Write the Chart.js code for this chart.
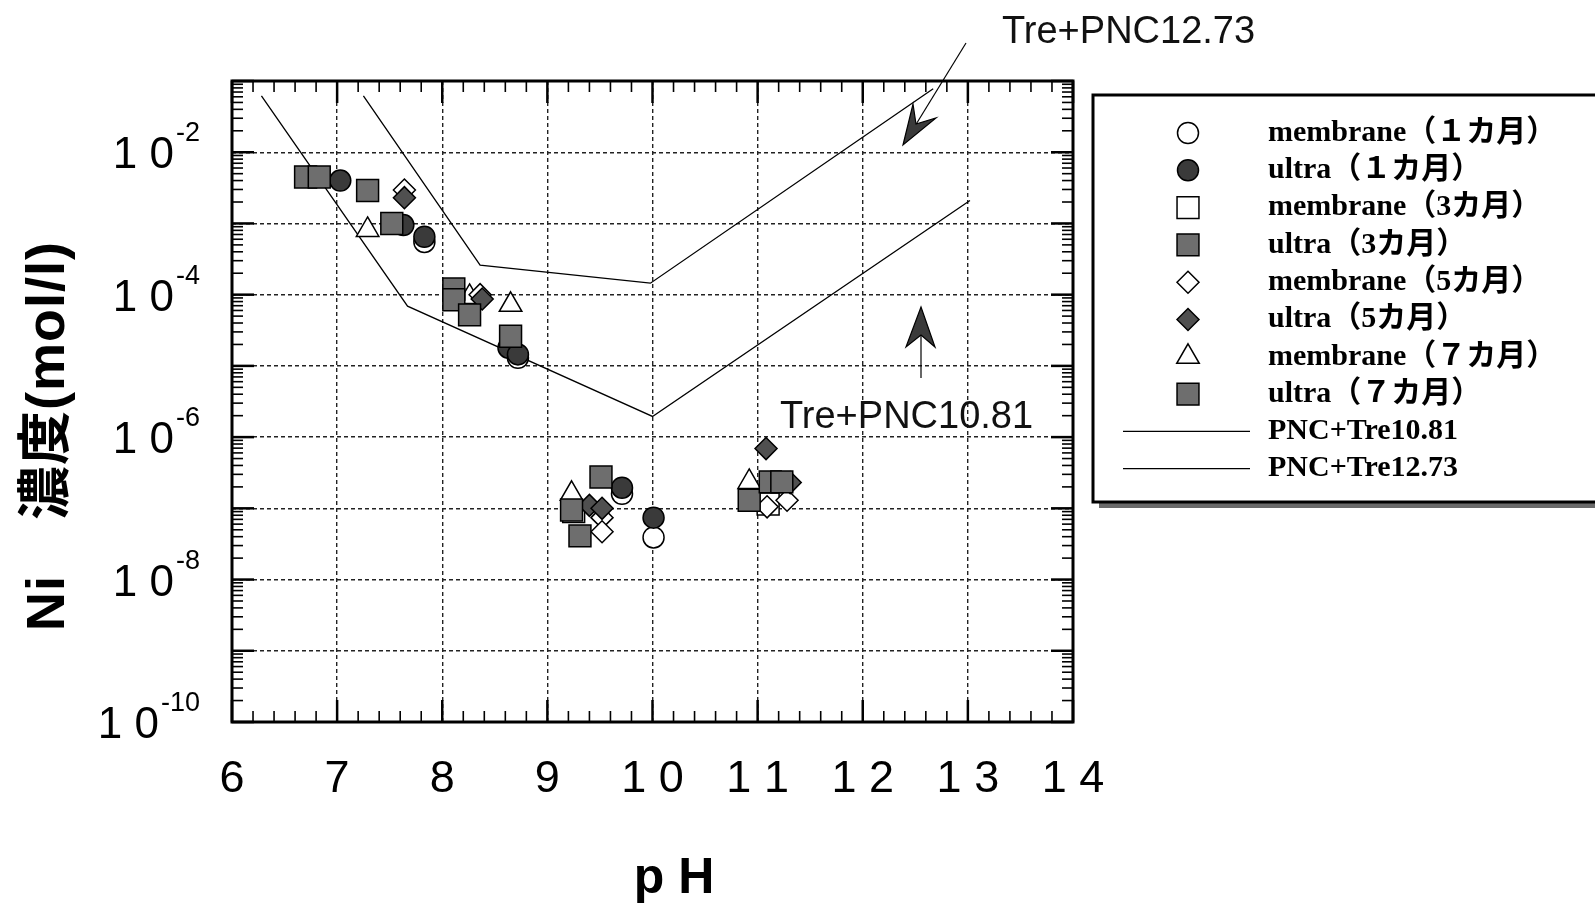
<!DOCTYPE html>
<html>
<head>
<meta charset="utf-8">
<script src="https://cdn.jsdelivr.net/npm/chart.js@4.4.1/dist/chart.umd.min.js"></script>
<style>
  html, body { margin: 0; padding: 0; background: #fff; }
  #wrap { width: 1595px; height: 904px; }
</style>
</head>
<body>
<div id="wrap"><canvas id="niChart" width="1595" height="904"></canvas></div>
<script>
// axis ticks
const phTicks = [6, 7, 8, 9, 10, 11, 12, 13, 14];
const concDecades = [1e-10, 1e-9, 1e-8, 1e-7, 1e-6, 1e-5, 1e-4, 1e-3, 1e-2, 1e-1];
const concLabelExp = [-10, -8, -6, -4, -2];

// membrane (1 month) - open circles
const m1_pH = [7.83, 8.72, 9.71, 10.01];
const m1_conc = [5.5e-4, 1.3e-5, 1.6e-7, 3.9e-8];
// ultra (1 month) - filled circles
const u1_pH = [7.03, 7.63, 7.83, 8.63, 8.72, 9.71, 10.01];
const u1_conc = [4.0e-3, 9.5e-4, 6.5e-4, 1.8e-5, 1.45e-5, 1.95e-7, 7.4e-8];
// membrane (3 months) - open squares (mostly hidden)
const m3_pH = [9.25, 11.10];
const m3_conc = [9.0e-8, 1.15e-7];
// ultra (3 months) - gray squares
const u3_pH = [7.29, 7.52, 8.11, 8.65, 9.51, 10.92];
const u3_conc = [2.9e-3, 1.0e-3, 1.2e-4, 2.6e-5, 2.75e-7, 1.3e-7];
// membrane (5 months) - open diamonds
const m5_pH = [7.64, 8.36, 9.52, 9.52, 11.09, 11.28];
const m5_conc = [2.95e-3, 1.0e-4, 7.4e-8, 4.7e-8, 1.05e-7, 1.3e-7];
// ultra (5 months) - filled diamonds
const u5_pH = [7.64, 8.38, 9.40, 9.52, 11.08, 11.31];
const u5_conc = [2.3e-3, 8.7e-5, 1.1e-7, 1.0e-7, 6.9e-7, 2.3e-7];
// membrane (7 months) - open triangles
const m7_pH = [7.29, 8.26, 8.65, 9.23, 10.92];
const m7_conc = [8.1e-4, 9.3e-5, 7.2e-5, 1.6e-7, 2.35e-7];
// ultra (7 months) - gray squares
const u7_pH = [6.70, 6.83, 8.11, 8.26, 9.23, 9.31, 11.12, 11.23];
const u7_conc = [4.5e-3, 4.5e-3, 8.5e-5, 5.2e-5, 9.5e-8, 4.1e-8, 2.35e-7, 2.35e-7];

// solubility curves
const pnc1081_pH = [6.28, 7.67, 10.0, 13.02];
const pnc1081_conc = [6.2e-2, 6.9e-5, 1.95e-6, 2.1e-3];
const pnc1273_pH = [7.25, 8.36, 9.98, 12.67];
const pnc1273_conc = [6.2e-2, 2.6e-4, 1.45e-4, 7.8e-2];

const SANS = "'Liberation Sans', Arial, 'Noto Sans CJK JP', sans-serif";
const SERIF = "'Liberation Serif', 'Times New Roman', 'Noto Sans CJK JP', serif";

function pts(xs, ys) {
    return xs.map((v, i) => ({ x: v, y: ys[i] }));
}

function markerSet(label, xs, ys, style, radius, fill, order) {
    return {
        label: label,
        data: pts(xs, ys),
        pointStyle: style,
        pointRadius: radius,
        pointBackgroundColor: fill,
        pointBorderColor: '#000',
        pointBorderWidth: 1.5,
        showLine: false,
        order: order
    };
}

function curveSet(label, xs, ys) {
    return {
        label: label,
        data: pts(xs, ys),
        showLine: true,
        pointRadius: 0,
        borderColor: '#000',
        borderWidth: 1.3,
        fill: false,
        order: 20
    };
}

const datasets = [
    markerSet('membrane（１カ月）', m1_pH, m1_conc, 'circle', 10.5, '#fff', 9),
    markerSet('ultra（１カ月）', u1_pH, u1_conc, 'circle', 10.5, '#3a3a3a', 8),
    markerSet('membrane（3カ月）', m3_pH, m3_conc, 'rect', 15.5, '#fff', 7),
    markerSet('ultra（3カ月）', u3_pH, u3_conc, 'rect', 15.5, '#6e6e6e', 2),
    markerSet('membrane（5カ月）', m5_pH, m5_conc, 'rectRot', 11, '#fff', 5),
    markerSet('ultra（5カ月）', u5_pH, u5_conc, 'rectRot', 11, '#505050', 4),
    markerSet('membrane（７カ月）', m7_pH, m7_conc, 'triangle', 13, '#fff', 6),
    markerSet('ultra（７カ月）', u7_pH, u7_conc, 'rect', 15.5, '#6e6e6e', 1),
    curveSet('PNC+Tre10.81', pnc1081_pH, pnc1081_conc),
    curveSet('PNC+Tre12.73', pnc1273_pH, pnc1273_conc)
];

function seg(ctx, x1, y1, x2, y2) {
    ctx.beginPath();
    ctx.moveTo(x1, y1);
    ctx.lineTo(x2, y2);
    ctx.stroke();
}

function arrowHead(ctx, pts) {
    ctx.beginPath();
    ctx.moveTo(pts[0][0], pts[0][1]);
    for (let i = 1; i < pts.length; i++) ctx.lineTo(pts[i][0], pts[i][1]);
    ctx.closePath();
    ctx.fillStyle = '#3a3a3a';
    ctx.fill();
    ctx.lineWidth = 1.2;
    ctx.strokeStyle = '#000';
    ctx.stroke();
}

// frame, inward ticks, labels, notes and the boxed legend
const decorPlugin = {
    id: 'decor',
    afterDraw(chart) {
        const { ctx, chartArea: a, scales: { x, y } } = chart;
        ctx.save();
        ctx.strokeStyle = '#000';

        // x ticks every 0.2
        for (let k = 0; k <= 40; k++) {
            const v = 6 + k * 0.2;
            const px = x.getPixelForValue(v);
            const major = k % 5 === 0;
            const len = major ? 22 : 11;
            ctx.lineWidth = major ? 2.5 : 1.6;
            seg(ctx, px, a.top, px, a.top + len);
            seg(ctx, px, a.bottom, px, a.bottom - len);
        }
        // log ticks
        for (let e = -10; e <= -1; e++) {
            for (let m = 1; m <= 9; m++) {
                const v = m * Math.pow(10, e);
                if (v > 0.1000001) break;
                const py = y.getPixelForValue(v);
                const major = m === 1;
                const len = major ? 22 : 11;
                ctx.lineWidth = major ? 2.5 : 1.6;
                seg(ctx, a.left, py, a.left + len, py);
                seg(ctx, a.right, py, a.right - len, py);
            }
        }
        // frame
        ctx.lineWidth = 3;
        ctx.strokeRect(a.left, a.top, a.right - a.left, a.bottom - a.top);

        // y tick labels with superscript exponents
        ctx.fillStyle = '#000';
        ctx.textBaseline = 'alphabetic';
        concLabelExp.forEach(e => {
            const py = y.getPixelForValue(Math.pow(10, e));
            ctx.font = '27px ' + SANS;
            const sup = '-' + Math.abs(e);
            const supW = ctx.measureText(sup).width;
            ctx.textAlign = 'right';
            ctx.fillText(sup, 200, py - 11);
            ctx.font = '44px ' + SANS;
            ctx.fillText('1 0', 200 - supW - 2, py + 16);
        });

        // axis titles
        ctx.font = 'bold 50px ' + SANS;
        ctx.textAlign = 'center';
        ctx.fillText('p H', 674, 893);

        ctx.save();
        ctx.translate(64, 631);
        ctx.rotate(-Math.PI / 2);
        ctx.font = 'bold 54px ' + SANS;
        ctx.letterSpacing = '1px';
        ctx.textAlign = 'left';
        ctx.fillText('Ni　濃度(mol/l)', 0, 0);
        ctx.restore();

        // curve annotations
        ctx.font = '38px ' + SANS;
        ctx.textAlign = 'left';
        ctx.fillStyle = '#111';
        ctx.fillText('Tre+PNC12.73', 1002, 43);
        ctx.fillText('Tre+PNC10.81', 780, 428);
        ctx.lineWidth = 1.2;
        ctx.strokeStyle = '#000';
        seg(ctx, 966, 43, 915, 126);
        arrowHead(ctx, [[903, 145], [913, 104], [916, 124], [936, 118]]);
        seg(ctx, 921, 378, 921, 335);
        arrowHead(ctx, [[921, 307], [935, 347], [921, 335], [906, 347]]);

        // legend box
        ctx.fillStyle = '#6a6a6a';
        ctx.fillRect(1099, 502, 500, 6);
        ctx.fillStyle = '#fff';
        ctx.fillRect(1093, 95, 510, 407);
        ctx.lineWidth = 3;
        ctx.strokeStyle = '#000';
        ctx.strokeRect(1093, 95, 510, 407);

        const rowY0 = 133, rowH = 37.3;
        chart.data.datasets.forEach((ds, i) => {
            const ry = rowY0 + i * rowH;
            if (ds.showLine) {
                ctx.lineWidth = 1.2;
                ctx.strokeStyle = '#000';
                seg(ctx, 1123, ry, 1250, ry);
            } else {
                ctx.fillStyle = ds.pointBackgroundColor;
                ctx.strokeStyle = '#000';
                ctx.lineWidth = 1.5;
                Chart.helpers.drawPoint(ctx, {
                    pointStyle: ds.pointStyle,
                    radius: ds.pointRadius,
                    rotation: 0,
                    borderWidth: 1.5
                }, 1188, ry);
            }
            ctx.fillStyle = '#000';
            ctx.font = 'bold 30px ' + SERIF;
            ctx.textAlign = 'left';
            ctx.textBaseline = 'middle';
            ctx.fillText(ds.label, 1268, ry);
        });
        ctx.restore();
    }
};

const ctx = document.getElementById('niChart').getContext('2d');
new Chart(ctx, {
    type: 'scatter',
    data: { datasets: datasets },
    options: {
        responsive: false,
        animation: false,
        events: [],
        layout: { padding: { left: 0, top: 81, right: 522, bottom: 0 } },
        plugins: {
            legend: { display: false },
            tooltip: { enabled: false }
        },
        scales: {
            x: {
                type: 'linear',
                min: 6,
                max: 14,
                afterBuildTicks: s => { s.ticks = phTicks.map(v => ({ value: v })); },
                afterFit: s => { s.height = 182; },
                ticks: {
                    callback: v => String(v).split('').join(' '),
                    font: { family: SANS, size: 45 },
                    color: '#000',
                    padding: 31,
                    maxRotation: 0,
                    autoSkip: false
                },
                grid: { color: '#222', lineWidth: 1.4, drawTicks: false },
                border: { display: false, dash: [4, 3] }
            },
            y: {
                type: 'logarithmic',
                min: 1e-10,
                max: 1e-1,
                afterBuildTicks: s => { s.ticks = concDecades.map(v => ({ value: v })); },
                afterFit: s => { s.width = 232; },
                ticks: { display: false },
                grid: { color: '#222', lineWidth: 1.4, drawTicks: false },
                border: { display: false, dash: [4, 3] }
            }
        }
    },
    plugins: [decorPlugin]
});
</script>
</body>
</html>
